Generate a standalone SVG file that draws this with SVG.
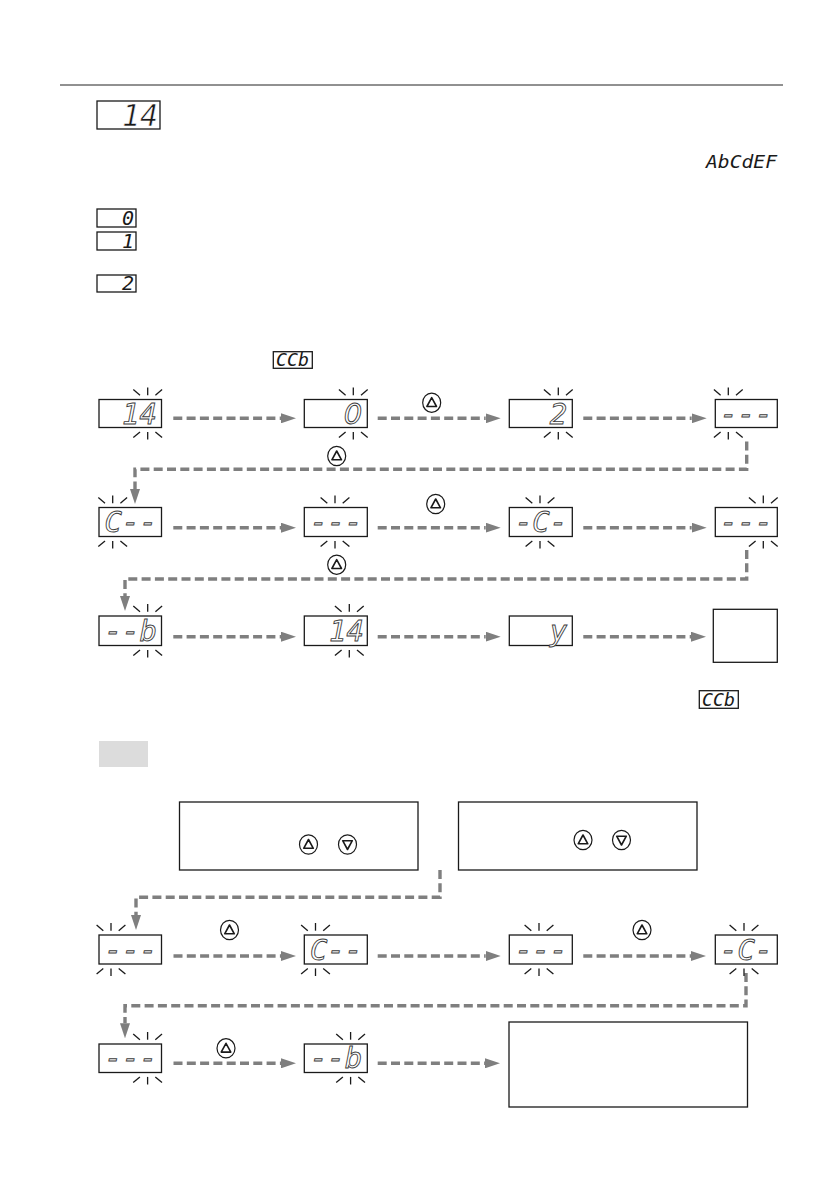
<svg xmlns="http://www.w3.org/2000/svg" xmlns:xlink="http://www.w3.org/1999/xlink" width="839" height="1191" viewBox="0 0 839 1191">
<style>
.box{fill:#fff;stroke:#1a1a1a;stroke-width:1.3}
.lcd{font-family:"DejaVu Sans Mono","Liberation Mono",monospace;font-style:italic;font-size:29px;fill:#fff;stroke:#3c3c3c;stroke-width:0.9;text-anchor:end}
.zero{font-family:"DejaVu Sans","Liberation Sans",sans-serif}
.blk{font-family:"DejaVu Sans Mono","Liberation Mono",monospace;font-style:italic;fill:#1a1a1a}
.thin{stroke:#fff;stroke-width:0.6}
.conn{fill:none;stroke:#7f7f7f;stroke-width:3.4;stroke-dasharray:9 4.3}
.sp line{stroke:#1a1a1a;stroke-width:1.3}
.btn ellipse{fill:#fff;stroke:#1a1a1a;stroke-width:1.2}
.btn path{fill:none;stroke:#1a1a1a;stroke-width:1.6;stroke-linejoin:round}
</style>
<defs>
<marker id="ah" markerUnits="userSpaceOnUse" markerWidth="15" markerHeight="10" viewBox="0 0 15 10" refX="0" refY="5" orient="auto">
<path d="M0,0 L15,5 L0,10 Z" fill="#7f7f7f"/>
</marker>
<g id="spT" class="sp"><line x1="0" y1="-12" x2="0" y2="-4.3"/><line x1="-14.4" y1="-10" x2="-7.7" y2="-4.3"/><line x1="14.4" y1="-10" x2="7.7" y2="-4.3"/></g>
<g id="spB" class="sp"><line x1="0" y1="12" x2="0" y2="4.4"/><line x1="-14.4" y1="10" x2="-7.7" y2="4.4"/><line x1="14.4" y1="10" x2="7.7" y2="4.4"/></g>
<g id="bU" class="btn"><ellipse cx="0" cy="0" rx="9" ry="9.6"/><path d="M0,-5 L4.8,3.8 L-4.8,3.8 Z"/></g>
<g id="bD" class="btn"><ellipse cx="0" cy="0" rx="9" ry="9.6"/><path d="M0,5 L4.8,-3.8 L-4.8,-3.8 Z"/></g>
</defs>
<rect width="839" height="1191" fill="#fff"/>
<line x1="60" y1="85" x2="783" y2="85" stroke="#222" stroke-width="1"/>
<g id="info">
<g id="info-14"><rect class="box" x="97" y="101" width="63" height="28"/><text class="blk thin" x="158" y="126" font-size="30" text-anchor="end">14</text></g>
<text id="info-chars" class="blk" x="706" y="168" font-size="18" textLength="71" lengthAdjust="spacingAndGlyphs">AbCdEF</text>
<g id="info-0"><rect class="box" x="97" y="209" width="39" height="18"/><text class="blk zero" x="134" y="225" font-size="20" text-anchor="end">0</text></g>
<g id="info-1"><rect class="box" x="97" y="232" width="39" height="18"/><text class="blk" x="134" y="248" font-size="20" text-anchor="end">1</text></g>
<g id="info-2"><rect class="box" x="97" y="275" width="39" height="17"/><text class="blk" x="134" y="290" font-size="20" text-anchor="end">2</text></g>
<g id="ccb-1"><rect class="box" x="273.3" y="351.7" width="39" height="16.6"/><text class="blk" x="276" y="366" font-size="17" textLength="33" lengthAdjust="spacingAndGlyphs">CCb</text></g>
<g id="ccb-2"><rect class="box" x="699.3" y="690.7" width="39" height="17.6"/><text class="blk" x="702" y="705.5" font-size="17" textLength="33" lengthAdjust="spacingAndGlyphs">CCb</text></g>
<rect id="tag" x="99" y="741" width="49" height="26" fill="#dcdcdc"/>
</g>
<g id="connectors">
<path class="conn" marker-end="url(#ah)" d="M173.3,418.3 H281"/>
<path class="conn" marker-end="url(#ah)" d="M377.7,418.3 H485.7"/>
<path class="conn" marker-end="url(#ah)" d="M583.3,418.3 H691.7"/>
<path class="conn" marker-end="url(#ah)" d="M746.7,441.5 V469.3 H135 V489"/>
<path class="conn" marker-end="url(#ah)" d="M173.3,527.7 H281"/>
<path class="conn" marker-end="url(#ah)" d="M377.7,527.7 H485.7"/>
<path class="conn" marker-end="url(#ah)" d="M583.3,527.7 H691.7"/>
<path class="conn" marker-end="url(#ah)" d="M746.7,550 V579 H125 V596"/>
<path class="conn" marker-end="url(#ah)" d="M173.3,636.7 H281"/>
<path class="conn" marker-end="url(#ah)" d="M377.7,636.7 H485.7"/>
<path class="conn" marker-end="url(#ah)" d="M583.3,636.7 H691"/>
<path class="conn" marker-end="url(#ah)" d="M440,870 V897.3 H136 V915"/>
<path class="conn" marker-end="url(#ah)" d="M173.5,956 H281"/>
<path class="conn" marker-end="url(#ah)" d="M377.7,956 H485.7"/>
<path class="conn" marker-end="url(#ah)" d="M583.3,956 H691"/>
<path class="conn" marker-end="url(#ah)" d="M746,973 V1005.7 H125 V1023.3"/>
<path class="conn" marker-end="url(#ah)" d="M173.5,1063.3 H281"/>
<path class="conn" marker-end="url(#ah)" d="M377.7,1063.3 H485"/>
</g>
<g id="buttons">
<use href="#bU" x="431.7" y="402.7"/>
<use href="#bU" x="336.7" y="456"/>
<use href="#bU" x="435.7" y="504"/>
<use href="#bU" x="336.7" y="564.7"/>
<use href="#bU" x="229.5" y="930"/>
<use href="#bU" x="642" y="930"/>
<use href="#bU" x="226" y="1048.3"/>
</g>
<g id="r1-d1"><use href="#spT" x="147.7" y="399.5"/><use href="#spB" x="147.7" y="427.5"/><rect class="box" x="99" y="399.5" width="62.5" height="28"/><text class="lcd" x="157" y="423.5">14</text></g>
<g id="r1-d2"><use href="#spT" x="353.3" y="399.5"/><use href="#spB" x="353.3" y="427.5"/><rect class="box" x="304.3" y="399.5" width="63" height="28"/><text class="lcd zero" x="362.3" y="423.5">0</text></g>
<g id="r1-d3"><use href="#spT" x="558.3" y="399.5"/><use href="#spB" x="558.3" y="427.5"/><rect class="box" x="509.3" y="399.5" width="63" height="28"/><text class="lcd" x="567.3" y="423.5">2</text></g>
<g id="r1-d4"><use href="#spT" x="728.3" y="399.5"/><use href="#spB" x="728.3" y="427.5"/><rect class="box" x="715.3" y="399.5" width="62" height="28"/><text class="lcd" x="772.5" y="423.5">---</text></g>
<g id="r2-d1"><use href="#spT" x="112.7" y="507.5"/><use href="#spB" x="112.7" y="536.5"/><rect class="box" x="99" y="507.5" width="62.5" height="29"/><text class="lcd" x="157" y="532">C--</text></g>
<g id="r2-d2"><use href="#spT" x="335" y="507.5"/><use href="#spB" x="335" y="536.5"/><rect class="box" x="304.3" y="507.5" width="63" height="29"/><text class="lcd" x="362.3" y="532">---</text></g>
<g id="r2-d3"><use href="#spT" x="540" y="507.5"/><use href="#spB" x="540" y="536.5"/><rect class="box" x="509.3" y="507.5" width="63" height="29"/><text class="lcd" x="567.3" y="532">-C-</text></g>
<g id="r2-d4"><use href="#spT" x="763.3" y="507.5"/><use href="#spB" x="763.3" y="536.5"/><rect class="box" x="715.3" y="507.5" width="62" height="29"/><text class="lcd" x="772.5" y="532">---</text></g>
<g id="r3-d1"><use href="#spT" x="147.7" y="616"/><use href="#spB" x="147.7" y="645.5"/><rect class="box" x="99" y="616" width="62.5" height="29.5"/><text class="lcd" x="157" y="640.5">--b</text></g>
<g id="r3-d2"><use href="#spT" x="349.3" y="616"/><use href="#spB" x="349.3" y="645.5"/><rect class="box" x="304.3" y="616" width="63" height="29.5"/><text class="lcd" x="364" y="640.5">14</text></g>
<g id="r3-d3"><rect class="box" x="509.3" y="616" width="63" height="29.5"/><text class="lcd" x="567.3" y="640.5">y</text></g>
<g id="r3-end"><rect class="box" x="713.3" y="609.3" width="64" height="53"/></g>
<g id="boxA"><rect class="box" x="179.5" y="802" width="238.5" height="68"/><use href="#bU" x="308.5" y="844.5"/><use href="#bD" x="347.5" y="844.5"/></g>
<g id="boxB"><rect class="box" x="458.5" y="802" width="238.5" height="68"/><use href="#bU" x="583" y="840"/><use href="#bD" x="621.5" y="840"/></g>
<g id="r4-d1"><use href="#spT" x="111" y="935"/><use href="#spB" x="111" y="964"/><rect class="box" x="99" y="935" width="62.5" height="29"/><text class="lcd" x="157" y="959.5">---</text></g>
<g id="r4-d2"><use href="#spT" x="315.5" y="935"/><use href="#spB" x="315.5" y="964"/><rect class="box" x="304.3" y="935" width="63" height="29"/><text class="lcd" x="362.3" y="959.5">C--</text></g>
<g id="r4-d3"><use href="#spT" x="539" y="935"/><use href="#spB" x="539" y="964"/><rect class="box" x="509.3" y="935" width="63" height="29"/><text class="lcd" x="567.3" y="959.5">---</text></g>
<g id="r4-d4"><use href="#spT" x="744" y="935"/><use href="#spB" x="744" y="964"/><rect class="box" x="715.3" y="935" width="62" height="29"/><text class="lcd" x="772.5" y="959.5">-C-</text></g>
<g id="r5-d1"><use href="#spT" x="147.6" y="1044"/><use href="#spB" x="147.6" y="1072.5"/><rect class="box" x="99" y="1044" width="62.5" height="28.5"/><text class="lcd" x="157" y="1068">---</text></g>
<g id="r5-d2"><use href="#spT" x="350.6" y="1044"/><use href="#spB" x="350.6" y="1072.5"/><rect class="box" x="304.3" y="1044" width="63" height="28.5"/><text class="lcd" x="362.3" y="1068">--b</text></g>
<g id="r5-end"><rect class="box" x="509" y="1022" width="238.5" height="85"/></g>
</svg>
